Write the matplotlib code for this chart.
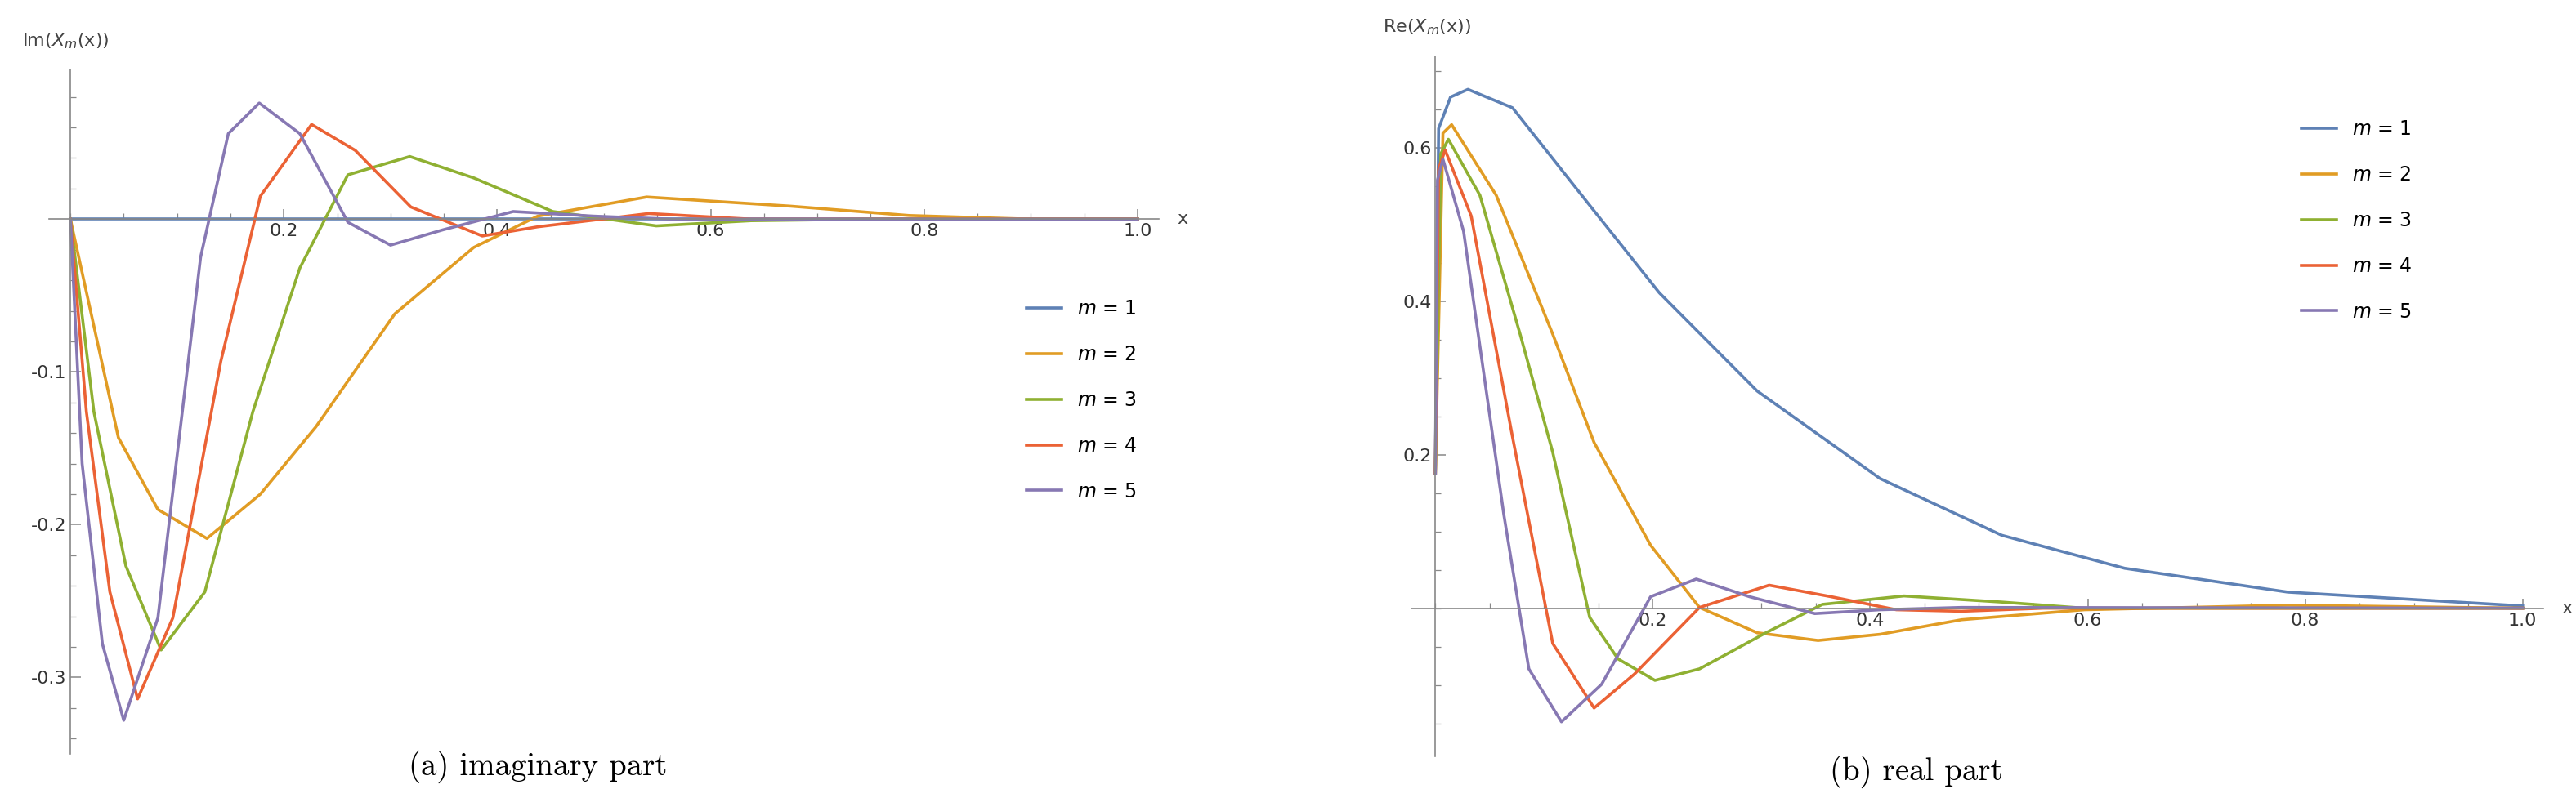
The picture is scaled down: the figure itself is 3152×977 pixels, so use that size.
import numpy as np
import matplotlib.pyplot as plt
from matplotlib.ticker import MultipleLocator

colors = ['#5E81B5', '#E19C24', '#8FB032', '#EB6235', '#8778B3']
labels = ['$m$ = 1', '$m$ = 2', '$m$ = 3', '$m$ = 4', '$m$ = 5']

# imaginary part
im_x = [
    [0.0, 1.0],
    [0.0, 0.045, 0.082, 0.128, 0.178, 0.23, 0.304, 0.378, 0.438, 0.54, 0.675, 0.786, 0.9, 1.0],
    [0.0, 0.022, 0.052, 0.085, 0.126, 0.171, 0.215, 0.26, 0.318, 0.378, 0.452, 0.549, 0.638, 0.75, 1.0],
    [0.0, 0.015, 0.037, 0.063, 0.096, 0.141, 0.178, 0.226, 0.267, 0.319, 0.386, 0.438, 0.542, 0.638, 1.0],
    [0.0, 0.011, 0.03, 0.05, 0.082, 0.122, 0.148, 0.177, 0.215, 0.26, 0.3, 0.349, 0.415, 0.49, 0.564, 1.0],
]
im_y = [
    [0.0, 0.0],
    [0.0, -0.143, -0.19, -0.209, -0.18, -0.136, -0.062, -0.0185, 0.002, 0.0145, 0.0085, 0.0024, 0.0, 0.0],
    [0.0, -0.126, -0.227, -0.282, -0.244, -0.126, -0.032, 0.029, 0.041, 0.027, 0.005, -0.0044, -0.001, 0.0, 0.0],
    [0.0, -0.126, -0.244, -0.314, -0.261, -0.093, 0.015, 0.062, 0.045, 0.008, -0.011, -0.005, 0.0037, 0.0, 0.0],
    [0.0, -0.16, -0.278, -0.328, -0.261, -0.025, 0.056, 0.076, 0.056, -0.002, -0.017, -0.007, 0.005, 0.002, 0.0, 0.0],
]

# real part
re_x = [
    [0.0, 0.003, 0.014, 0.03, 0.071, 0.138, 0.206, 0.296, 0.409, 0.521, 0.634, 0.784, 1.0],
    [0.0, 0.007, 0.015, 0.056, 0.108, 0.146, 0.198, 0.243, 0.296, 0.352, 0.409, 0.484, 0.597, 0.784, 1.0],
    [0.0, 0.005, 0.012, 0.041, 0.078, 0.108, 0.142, 0.168, 0.202, 0.243, 0.304, 0.356, 0.431, 0.521, 0.597, 1.0],
    [0.0, 0.003, 0.009, 0.033, 0.071, 0.108, 0.146, 0.183, 0.243, 0.307, 0.364, 0.424, 0.484, 0.559, 1.0],
    [0.0, 0.002, 0.007, 0.026, 0.063, 0.086, 0.116, 0.153, 0.198, 0.24, 0.289, 0.349, 0.409, 0.484, 1.0],
]
re_y = [
    [0.176, 0.625, 0.666, 0.676, 0.652, 0.532, 0.411, 0.283, 0.169, 0.095, 0.052, 0.021, 0.003],
    [0.176, 0.619, 0.63, 0.538, 0.357, 0.216, 0.082, 0.001, -0.032, -0.042, -0.034, -0.015, -0.002, 0.004, 0.0],
    [0.176, 0.592, 0.611, 0.538, 0.357, 0.203, -0.012, -0.066, -0.094, -0.079, -0.032, 0.005, 0.016, 0.008, 0.0, 0.0],
    [0.176, 0.572, 0.597, 0.511, 0.223, -0.046, -0.13, -0.086, 0.001, 0.03, 0.015, -0.002, -0.004, 0.0, 0.0],
    [0.176, 0.558, 0.585, 0.491, 0.122, -0.079, -0.148, -0.099, 0.015, 0.038, 0.015, -0.007, -0.002, 0.001, 0.0],
]

W, H = 3152, 977
fig = plt.figure(figsize=(W / 100, H / 100), dpi=100)

def make_axes(px_left, px_right, px_top, px_bottom):
    return fig.add_axes([px_left / W, 1 - px_bottom / H, (px_right - px_left) / W, (px_bottom - px_top) / H])

def style(ax, ylim, xlim, ymajor, yminor, yfmt):
    ax.set_xlim(*xlim)
    ax.set_ylim(*ylim)
    for s in ['top', 'right']:
        ax.spines[s].set_visible(False)
    for s in ['left', 'bottom']:
        ax.spines[s].set_position(('data', 0))
        ax.spines[s].set_color('#888888')
        ax.spines[s].set_linewidth(1.2)
    ax.set_xticks([0.2, 0.4, 0.6, 0.8, 1.0])
    ax.set_xticklabels(['0.2', '0.4', '0.6', '0.8', '1.0'])
    ax.xaxis.set_minor_locator(MultipleLocator(0.05))
    ax.set_yticks(ymajor)
    ax.set_yticklabels([yfmt % v for v in ymajor])
    ax.yaxis.set_minor_locator(MultipleLocator(yminor))
    ax.tick_params(which='both', direction='in', colors='#888888', labelcolor='#333333', labelsize=16)
    ax.tick_params(which='major', length=9, width=1.1)
    ax.tick_params(which='minor', length=5, width=0.9)
    ax.patch.set_alpha(0)

# left panel
ax1 = make_axes(60, 1418, 85, 923)
for xs, ys, c, l in zip(im_x, im_y, colors, labels):
    ax1.plot(xs, ys, color=c, lw=2.6, label=l)
style(ax1, (-0.350, 0.098), (-0.02, 1.02), [-0.3, -0.2, -0.1], 0.02, '%.1f')
ax1.legend(loc='upper left', bbox_to_anchor=(1235 / W, 1 - 345 / H), bbox_transform=fig.transFigure,
           frameon=False, fontsize=17, handlelength=1.8, labelspacing=1.35)
fig.text(27 / W, 1 - 50 / H, 'Im($X_m$(x))', fontsize=16, color='#444444', va='center', ha='left')
fig.text(1440 / W, 1 - 268 / H, 'x', fontsize=16, color='#444444', va='center', ha='left')
fig.text(658 / W, 1 - 939 / H, '(a) imaginary part', family='cmr10', fontsize=28, ha='center', va='center')

# right panel
ax2 = make_axes(1727, 3112, 69, 926)
for xs, ys, c, l in zip(re_x, re_y, colors, labels):
    ax2.plot(xs, ys, color=c, lw=2.6, label=l)
style(ax2, (-0.193, 0.719), (-0.022, 1.019), [0.2, 0.4, 0.6], 0.05, '%.1f')
ax2.legend(loc='upper left', bbox_to_anchor=(2795 / W, 1 - 125 / H), bbox_transform=fig.transFigure,
           frameon=False, fontsize=17, handlelength=1.8, labelspacing=1.35)
fig.text(1692 / W, 1 - 33 / H, 'Re($X_m$(x))', fontsize=16, color='#444444', va='center', ha='left')
fig.text(3134 / W, 1 - 745 / H, 'x', fontsize=16, color='#444444', va='center', ha='left')
fig.text(2345 / W, 1 - 945 / H, '(b) real part', family='cmr10', fontsize=28, ha='center', va='center')

fig.savefig('out.png', dpi=100)
